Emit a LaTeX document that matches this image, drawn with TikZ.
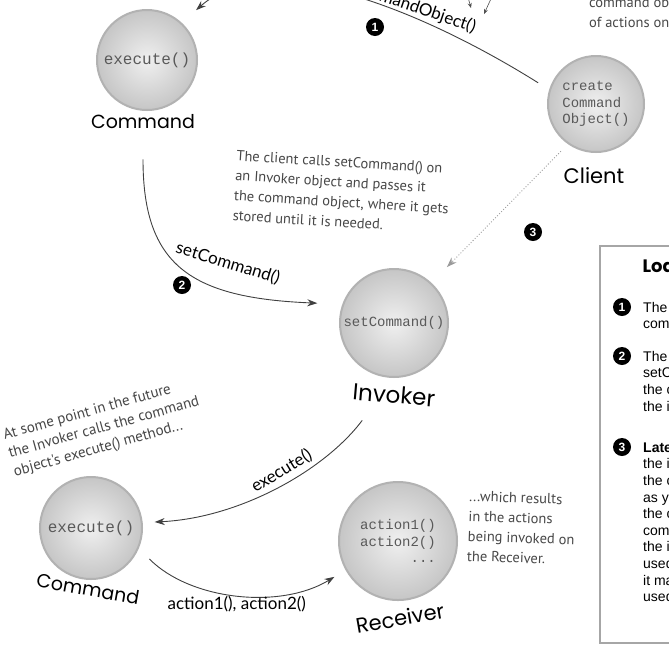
\documentclass[tikz,border=0pt]{standalone}
\usepackage{fontspec}
\setmainfont{Liberation Sans}
\newfontfamily\handfont{PT Sans}
\newfontfamily\namefont{Poppins}
\newfontfamily\msgfont{Lato}
\newfontfamily\codefont{Liberation Mono}
\usetikzlibrary{arrows.meta}

\tikzset{
  ball/.style={circle, inner sep=0pt, draw=gray!60, line width=2pt,
    inner color=gray!12, outer color=gray!45, align=center,
    text=gray!70!black, font=\codefont\fontsize{14}{16.5}\selectfont},
  objname/.style={font=\namefont\fontsize{21}{24}\selectfont, inner sep=0pt},
  note/.style={font=\handfont\fontsize{14.5}{20}\selectfont, text=black!72,
    align=left, inner sep=0pt},
  msg/.style={font=\msgfont\fontsize{17}{19}\selectfont, inner sep=2pt},
  stepnum/.style={circle, fill=black, text=white, inner sep=0pt,
    minimum size=18pt, font=\bfseries\fontsize{12}{12}\selectfont},
  flow/.style={-{Stealth[length=10pt,width=7pt]}, line width=0.9pt, draw=black!75},
  boxtext/.style={font=\fontsize{14}{16.6}\selectfont, align=left,
    inner sep=0pt, anchor=north west}
}

\begin{document}
\begin{tikzpicture}[x=1pt,y=-1pt]
\useasboundingbox (0,0) rectangle (669,649);
\fill[white] (0,0) rectangle (669,649);
\clip (0,0) rectangle (669,649);

% Objects
\node[ball, minimum size=100pt, font=\codefont\fontsize{16}{18}\selectfont] (cmdA) at (147,60) {execute()};
\node[objname, font=\namefont\fontsize{19}{22}\selectfont] (cmdAname) at (143,122) {Command};
\node[ball, minimum size=96pt, align=left] (cl) at (596,104) {create\\Command\\Object()};
\node[objname] (clname) at (594,176) {Client};
\node[ball, minimum size=108pt] (inv) at (394,323) {setCommand()};
\node[objname, font=\namefont\fontsize{23}{26}\selectfont, rotate=-5] (invname) at (394,395) {Invoker};
\node[ball, minimum size=102pt, font=\codefont\fontsize{16}{18}\selectfont] (cmdB) at (91,528) {execute()};
\node[objname, font=\namefont\fontsize{19}{22}\selectfont, rotate=-10] (cmdBname) at (88,589) {Command};
\node[ball, minimum size=118pt, align=right] (rcv) at (398,541) {action1()\\action2()\\...};
\node[objname, rotate=10] (rcvname) at (400,618) {Receiver};

% Steps
\node[stepnum] (s1) at (375,27) {1};
\node[stepnum] (s2) at (182,285) {2};
\node[stepnum] (s3) at (533,232) {3};

% Calls
\draw[flow, shorten <=13pt, shorten >=19pt] (cl.163) .. controls (430,15) and (270,-55) .. (cmdA.47)
  node[msg, sloped, above, pos=0.42] {createCommandObject()};
\draw[flow, shorten <=30pt, shorten >=25pt] (cmdAname.south) .. controls (143,265) and (190,298) .. (inv.160)
  node[msg, rotate=-17, above=13pt, pos=0.66] {setCommand()};
\draw[flow, draw=gray!80, dotted, shorten <=10pt, shorten >=22pt] (cl.235) -- (inv.47);
\draw[flow, shorten <=53pt, shorten >=12pt] (inv.south) .. controls (325,470) and (240,518) .. (cmdB.6)
  node[msg, sloped, above, inner sep=1pt, pos=0.47] {execute()};
\draw[flow, shorten <=15pt, shorten >=13pt] (cmdB.-23) .. controls (190,600) and (280,610) .. (rcv.209)
  node[msg, below, pos=0.5] {action1(), action2()};

% Hints from the cut-off note
\coordinate (hintA) at (466,-10);
\coordinate (hintAend) at (471,8);
\coordinate (hintB) at (495,-10);
\coordinate (hintBend) at (484,14);
\draw[-{Stealth[length=5pt,width=4pt]}, black!70, line width=0.6pt] (hintA) -- (hintAend);
\draw[-{Stealth[length=5pt,width=4pt]}, black!70, line width=0.6pt] (hintB) -- (hintBend);

% Notes
\node[note, anchor=north west] (notecl) at (589,-23) {The client creates a\\command object made up\\of actions on a receiver.};
\node[note, rotate=-3.5] (noteinv) at (342,192) {The client calls setCommand() on\\an Invoker object and passes it\\the command object, where it gets\\stored until it is needed.};
\node[note, rotate=15.5, font=\handfont\fontsize{15}{19}\selectfont] (noteexec) at (104,428) {At some point in the future\\the Invoker calls the command\\object's execute() method...};
\node[note, anchor=west, rotate=-2] (notercv) at (468,526) {...which results\\in the actions\\being invoked on\\the Receiver.};

% Loading box
\draw[gray!70, line width=1.2pt] (600,246) rectangle (700,643);
\node[font=\namefont\bfseries\fontsize{18}{20}\selectfont, anchor=west] (loadhead) at (639,268) {Loading the Invoker};
\node[stepnum] (b1) at (622,307) {1};
\node[boxtext] (t1) at (643,302) {The client creates a\\command object.};
\node[stepnum] (b2) at (622,356) {2};
\node[boxtext] (t2) at (643,351) {The client does a\\setCommand() to store\\the command object in\\the invoker.};
\node[stepnum] (b3) at (622,447) {3};
\node[boxtext] (t3) at (643,442) {\textbf{Later...} the client asks\\the invoker to execute\\the command. Note:\\as you'll see later in\\the chapter, once a\\command is loaded into\\the invoker, it may be\\used and discarded, or\\it may remain and be\\used many times.};
\end{tikzpicture}
\end{document}
